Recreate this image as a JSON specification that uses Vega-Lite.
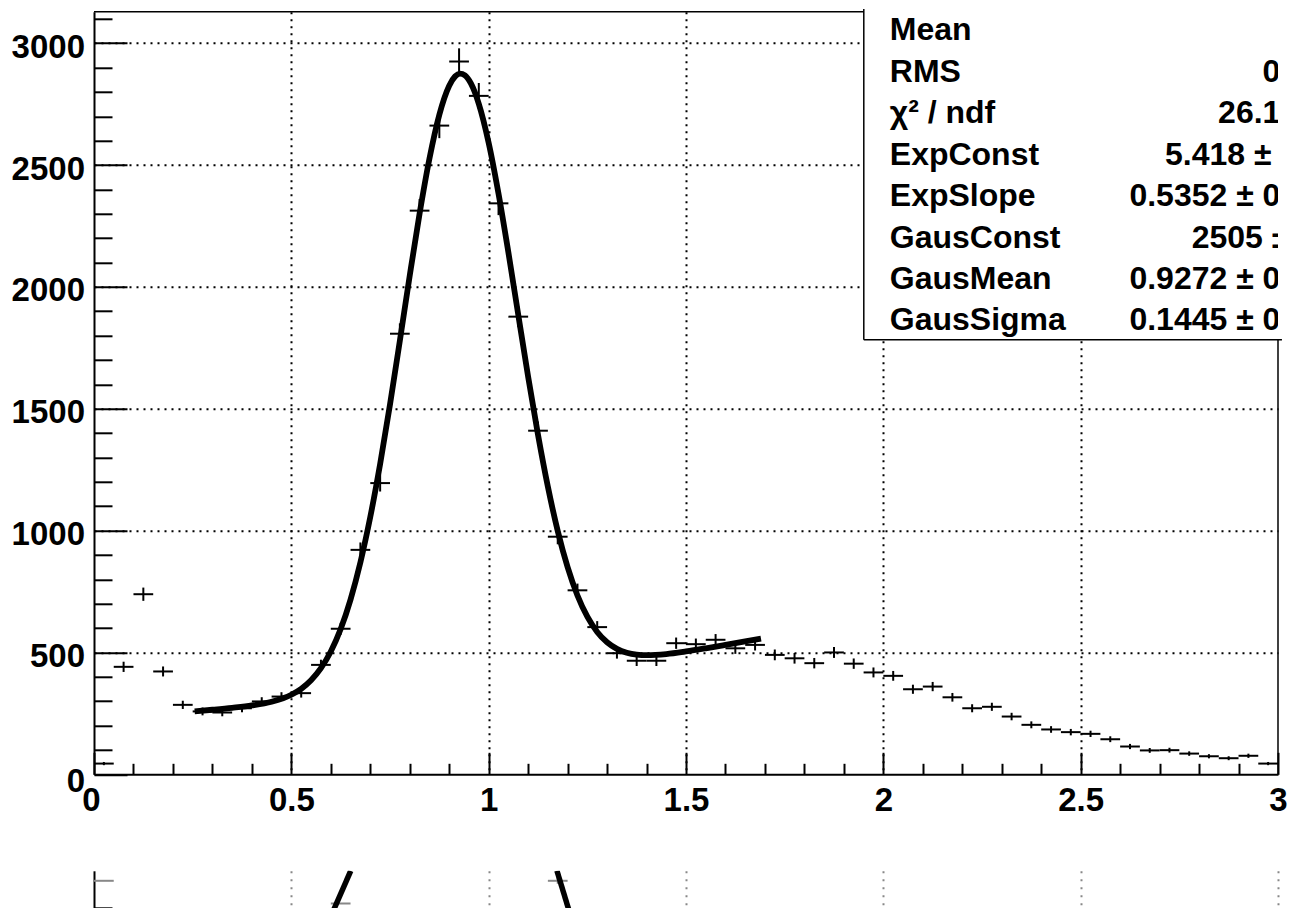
{
  "$schema": "https://vega.github.io/schema/vega-lite/v6.json",
  "padding": {"left": 11, "top": 6.8, "right": 0, "bottom": 0},
  "background": "white",
  "spacing": 42,
  "config": {
    "font": "Liberation Sans",
    "view": {"stroke": null}
  },
  "datasets": {
    "hist": [
      {"x": 0.025, "n": 44, "e": 6.6}, {"x": 0.075, "n": 441, "e": 21}, {"x": 0.125, "n": 739, "e": 27.2},
      {"x": 0.175, "n": 422, "e": 20.5}, {"x": 0.225, "n": 285, "e": 16.9}, {"x": 0.275, "n": 258, "e": 16.1},
      {"x": 0.325, "n": 254, "e": 15.9}, {"x": 0.375, "n": 271, "e": 16.5}, {"x": 0.425, "n": 299, "e": 17.3},
      {"x": 0.475, "n": 319, "e": 17.9}, {"x": 0.525, "n": 333, "e": 18.2}, {"x": 0.575, "n": 449, "e": 21.2},
      {"x": 0.625, "n": 597, "e": 24.4}, {"x": 0.675, "n": 921, "e": 30.4}, {"x": 0.725, "n": 1195, "e": 34.6},
      {"x": 0.775, "n": 1808, "e": 42.5}, {"x": 0.825, "n": 2313, "e": 48.1}, {"x": 0.875, "n": 2662, "e": 51.6},
      {"x": 0.925, "n": 2925, "e": 54.1}, {"x": 0.975, "n": 2784, "e": 52.8}, {"x": 1.025, "n": 2343, "e": 48.4},
      {"x": 1.075, "n": 1878, "e": 43.3}, {"x": 1.125, "n": 1410, "e": 37.5}, {"x": 1.175, "n": 975, "e": 31.2},
      {"x": 1.225, "n": 755, "e": 27.5}, {"x": 1.275, "n": 604, "e": 24.6}, {"x": 1.325, "n": 497, "e": 22.3},
      {"x": 1.375, "n": 466, "e": 21.6}, {"x": 1.425, "n": 466, "e": 21.6}, {"x": 1.475, "n": 538, "e": 23.2},
      {"x": 1.525, "n": 534, "e": 23.1}, {"x": 1.575, "n": 552, "e": 23.5}, {"x": 1.625, "n": 517, "e": 22.7},
      {"x": 1.675, "n": 531, "e": 23}, {"x": 1.725, "n": 490, "e": 22.1}, {"x": 1.775, "n": 476, "e": 21.8},
      {"x": 1.825, "n": 456, "e": 21.4}, {"x": 1.875, "n": 500, "e": 22.4}, {"x": 1.925, "n": 454, "e": 21.3},
      {"x": 1.975, "n": 418, "e": 20.4}, {"x": 2.025, "n": 404, "e": 20.1}, {"x": 2.075, "n": 349, "e": 18.7},
      {"x": 2.125, "n": 360, "e": 19}, {"x": 2.175, "n": 316, "e": 17.8}, {"x": 2.225, "n": 271, "e": 16.5},
      {"x": 2.275, "n": 277, "e": 16.6}, {"x": 2.325, "n": 237, "e": 15.4}, {"x": 2.375, "n": 203, "e": 14.2},
      {"x": 2.425, "n": 184, "e": 13.6}, {"x": 2.475, "n": 173, "e": 13.2}, {"x": 2.525, "n": 166, "e": 12.9},
      {"x": 2.575, "n": 144, "e": 12}, {"x": 2.625, "n": 114, "e": 10.7}, {"x": 2.675, "n": 98, "e": 9.9},
      {"x": 2.725, "n": 99, "e": 9.9}, {"x": 2.775, "n": 85, "e": 9.2}, {"x": 2.825, "n": 74, "e": 8.6},
      {"x": 2.875, "n": 66, "e": 8.1}, {"x": 2.925, "n": 76, "e": 8.7}, {"x": 2.975, "n": 44, "e": 6.6}
    ],
    "fit": [
      {"x": 0.255, "f": 258.4}, {"x": 0.3, "f": 264.9}, {"x": 0.35, "f": 272.8}, {"x": 0.4, "f": 282.4},
      {"x": 0.45, "f": 297.5}, {"x": 0.5, "f": 326.3}, {"x": 0.525, "f": 350.7}, {"x": 0.55, "f": 385.7},
      {"x": 0.575, "f": 435.3}, {"x": 0.6, "f": 503.9}, {"x": 0.625, "f": 596.2}, {"x": 0.65, "f": 717.0},
      {"x": 0.675, "f": 869.7}, {"x": 0.7, "f": 1055.7}, {"x": 0.725, "f": 1273.4}, {"x": 0.75, "f": 1517.9},
      {"x": 0.775, "f": 1779.7}, {"x": 0.8, "f": 2046.2}, {"x": 0.825, "f": 2301.2}, {"x": 0.85, "f": 2527.1},
      {"x": 0.875, "f": 2706.9}, {"x": 0.9, "f": 2825.9}, {"x": 0.915, "f": 2864.0}, {"x": 0.9272, "f": 2875.3},
      {"x": 0.94, "f": 2868.0}, {"x": 0.955, "f": 2834.9}, {"x": 0.975, "f": 2751.5}, {"x": 1.0, "f": 2591.4},
      {"x": 1.025, "f": 2382.4}, {"x": 1.05, "f": 2141.2}, {"x": 1.075, "f": 1885.4}, {"x": 1.1, "f": 1631.7},
      {"x": 1.125, "f": 1393.3}, {"x": 1.15, "f": 1180.3}, {"x": 1.175, "f": 998.5}, {"x": 1.2, "f": 850.0},
      {"x": 1.225, "f": 733.7}, {"x": 1.25, "f": 646.7}, {"x": 1.275, "f": 584.3}, {"x": 1.3, "f": 541.8},
      {"x": 1.325, "f": 514.7}, {"x": 1.35, "f": 499.0}, {"x": 1.375, "f": 491.1}, {"x": 1.4, "f": 488.8},
      {"x": 1.45, "f": 493.4}, {"x": 1.5, "f": 504.1}, {"x": 1.55, "f": 517.0}, {"x": 1.6, "f": 530.9},
      {"x": 1.65, "f": 545.2}, {"x": 1.69, "f": 557.0}
    ],
    "stats": [
      {"k": 0, "label": "Mean", "val": ""},
      {"k": 1, "label": "RMS", "val": "0.3744"},
      {"k": 2, "label": "χ² / ndf", "val": "26.15 / 26"},
      {"k": 3, "label": "ExpConst", "val": "5.418 ± 0.030"},
      {"k": 4, "label": "ExpSlope", "val": "0.5352 ± 0.0383"},
      {"k": 5, "label": "GausConst", "val": "2505 ± 26.4"},
      {"k": 6, "label": "GausMean", "val": "0.9272 ± 0.0013"},
      {"k": 7, "label": "GausSigma", "val": "0.1445 ± 0.0014"}
    ],
    "lowpts": [
      {"x": 0.025, "v": 90, "e": 0},
      {"x": 0.625, "v": 67.3, "e": 0},
      {"x": 1.175, "v": 90, "e": 3}
    ],
    "lowfit": [
      {"seg": "a", "x": 0.6505, "v": 100}, {"seg": "a", "x": 0.6074, "v": 61},
      {"seg": "b", "x": 1.173, "v": 100}, {"seg": "b", "x": 1.203, "v": 61}
    ]
  },
  "vconcat": [
    {
      "width": 1184,
      "height": 762.5,
      "resolve": {"scale": {"y": "independent"}, "axis": {"y": "independent"}},
      "layer": [
        {
          "layer": [
            {
              "data": {"name": "hist"},
              "mark": {"type": "tick", "orient": "horizontal", "size": 19.73, "thickness": 2, "color": "black", "opacity": 1},
              "encoding": {
                "x": {
                  "field": "x", "type": "quantitative",
                  "scale": {"domain": [0, 3], "nice": false, "zero": false},
                  "axis": {
                    "title": null,
                    "values": [0,0.1,0.2,0.3,0.4,0.5,0.6,0.7,0.8,0.9,1,1.1,1.2,1.3,1.4,1.5,1.6,1.7,1.8,1.9,2,2.1,2.2,2.3,2.4,2.5,2.6,2.7,2.8,2.9,3],
                    "tickCount": 500,
                    "domainColor": "black", "domainWidth": 2,
                    "tickColor": "black", "tickWidth": 2,
                    "tickSize": {"condition": {"test": "abs(datum.value*2 - round(datum.value*2)) < 0.000001", "value": -22}, "value": -11},
                    "grid": true, "gridColor": "black", "gridWidth": 2, "gridDash": [2, 5],
                    "gridOpacity": {"condition": {"test": "abs(datum.value*2 - round(datum.value*2)) < 0.000001 && datum.value > 0.01 && datum.value < 2.99", "value": 1}, "value": 0},
                    "labelExpr": "abs(datum.value*2 - round(datum.value*2)) < 0.000001 ? format(datum.value, '~g') : ''",
                    "labelFont": "Liberation Sans", "labelFontWeight": "bold", "labelFontSize": 33, "labelColor": "black",
                    "labelPadding": 31.8,
                    "labelOffset": {"condition": {"test": "datum.value == 0", "value": -3}, "value": 0},
                    "labelOverlap": false, "labelBound": false, "labelFlush": false
                  }
                },
                "y": {
                  "field": "n", "type": "quantitative",
                  "scale": {"domain": [0, 3129], "nice": false, "zero": false},
                  "axis": {
                    "title": null,
                    "values": [0,100,200,300,400,500,600,700,800,900,1000,1100,1200,1300,1400,1500,1600,1700,1800,1900,2000,2100,2200,2300,2400,2500,2600,2700,2800,2900,3000,3100],
                    "tickCount": 500,
                    "domainColor": "black", "domainWidth": 2,
                    "tickColor": "black", "tickWidth": 2,
                    "tickSize": {"condition": {"test": "datum.value % 500 == 0", "value": -33}, "value": -18},
                    "grid": true, "gridColor": "black", "gridWidth": 2, "gridDash": [2, 5],
                    "gridOpacity": {"condition": {"test": "datum.value % 500 == 0 && datum.value > 0", "value": 1}, "value": 0},
                    "labelExpr": "datum.value % 500 == 0 ? format(datum.value, 'd') : ''",
                    "labelFont": "Liberation Sans", "labelFontWeight": "bold", "labelFontSize": 33, "labelColor": "black",
                    "labelPadding": 42.5,
                    "labelOffset": {"condition": {"test": "datum.value == 0", "value": 7}, "value": 4},
                    "labelOverlap": false, "labelBound": false, "labelFlush": false
                  }
                }
              }
            },
            {
              "data": {"name": "hist"},
              "mark": {"type": "errorbar", "ticks": false, "rule": {"strokeWidth": 2, "color": "black"}},
              "encoding": {
                "x": {"field": "x", "type": "quantitative"},
                "y": {"field": "n", "type": "quantitative"},
                "yError": {"field": "e"}
              }
            },
            {
              "data": {"name": "fit"},
              "mark": {"type": "line", "color": "black", "strokeWidth": 5.8, "interpolate": "monotone"},
              "encoding": {
                "x": {"field": "x", "type": "quantitative"},
                "y": {"field": "f", "type": "quantitative"}
              }
            },
            {
              "data": {"values": [{}]},
              "mark": {"type": "rule", "color": "black", "strokeWidth": 1.5},
              "encoding": {
                "x": {"datum": 0, "type": "quantitative"}, "x2": {"datum": 3},
                "y": {"datum": 3129, "type": "quantitative"}
              }
            },
            {
              "data": {"values": [{}]},
              "mark": {"type": "rule", "color": "black", "strokeWidth": 1.5},
              "encoding": {
                "x": {"datum": 3, "type": "quantitative"},
                "y": {"datum": 0, "type": "quantitative"}, "y2": {"datum": 3129}
              }
            },
            {
              "data": {"values": [{}]},
              "mark": {"type": "rect", "fill": "white"},
              "encoding": {
                "x": {"datum": 1.9505, "type": "quantitative"}, "x2": {"datum": 3.01},
                "y": {"datum": 1783, "type": "quantitative"}, "y2": {"datum": 3140}
              }
            },
            {
              "data": {"values": [{}]},
              "mark": {"type": "rule", "color": "black", "strokeWidth": 1.5},
              "encoding": {
                "x": {"datum": 1.9505, "type": "quantitative"},
                "y": {"datum": 1783, "type": "quantitative"}, "y2": {"datum": 3140}
              }
            },
            {
              "data": {"values": [{}]},
              "mark": {"type": "rule", "color": "black", "strokeWidth": 1.5},
              "encoding": {
                "x": {"datum": 1.9505, "type": "quantitative"}, "x2": {"datum": 3.01},
                "y": {"datum": 1783, "type": "quantitative"}
              }
            }
          ]
        },
        {
          "data": {"name": "stats"},
          "layer": [
            {
              "mark": {"type": "text", "align": "left", "baseline": "middle", "font": "Liberation Sans", "fontWeight": "bold", "fontSize": 32, "color": "black"},
              "encoding": {
                "x": {"datum": 2.0164, "type": "quantitative"},
                "y": {"field": "k", "type": "quantitative", "scale": {"domain": [-0.449, 17.955], "reverse": true, "nice": false, "zero": false}, "axis": null},
                "text": {"field": "label"}
              }
            },
            {
              "mark": {"type": "text", "align": "right", "baseline": "middle", "font": "Liberation Sans", "fontWeight": "bold", "fontSize": 32, "color": "black", "clip": true},
              "encoding": {
                "x": {"datum": 3.2088, "type": "quantitative"},
                "y": {"field": "k", "type": "quantitative"},
                "text": {"field": "val"}
              }
            }
          ]
        }
      ]
    },
    {
      "width": 1184,
      "height": 39,
      "layer": [
        {
          "data": {"name": "lowpts"},
          "mark": {"type": "tick", "orient": "horizontal", "size": 19.73, "thickness": 2, "color": "#888888", "opacity": 1},
          "encoding": {
            "x": {
              "field": "x", "type": "quantitative",
              "scale": {"domain": [0, 3], "nice": false, "zero": false},
              "axis": {"title": null, "domain": false, "ticks": false, "labels": false, "grid": true, "tickCount": 100,
                       "values": [0.5, 1, 1.5, 2, 2.5, 3], "gridColor": "#888888", "gridWidth": 2, "gridDash": [2, 6], "gridOpacity": 1}
            },
            "y": {
              "field": "v", "type": "quantitative",
              "scale": {"domain": [61, 100], "nice": false, "zero": false},
              "axis": {"title": null, "domain": true, "domainColor": "black", "domainWidth": 2, "labels": false, "grid": false,
                       "ticks": true, "values": [63.5], "tickSize": -18, "tickWidth": 2, "tickColor": "black"}
            }
          }
        },
        {
          "data": {"name": "lowpts"},
          "mark": {"type": "errorbar", "ticks": false, "rule": {"strokeWidth": 2, "color": "#888888"}},
          "encoding": {
            "x": {"field": "x", "type": "quantitative"},
            "y": {"field": "v", "type": "quantitative"},
            "yError": {"field": "e"}
          }
        },
        {
          "data": {"name": "lowfit"},
          "mark": {"type": "line", "color": "black", "strokeWidth": 5.5, "clip": true},
          "encoding": {
            "x": {"field": "x", "type": "quantitative"},
            "y": {"field": "v", "type": "quantitative"},
            "detail": {"field": "seg"}
          }
        }
      ]
    }
  ]
}
